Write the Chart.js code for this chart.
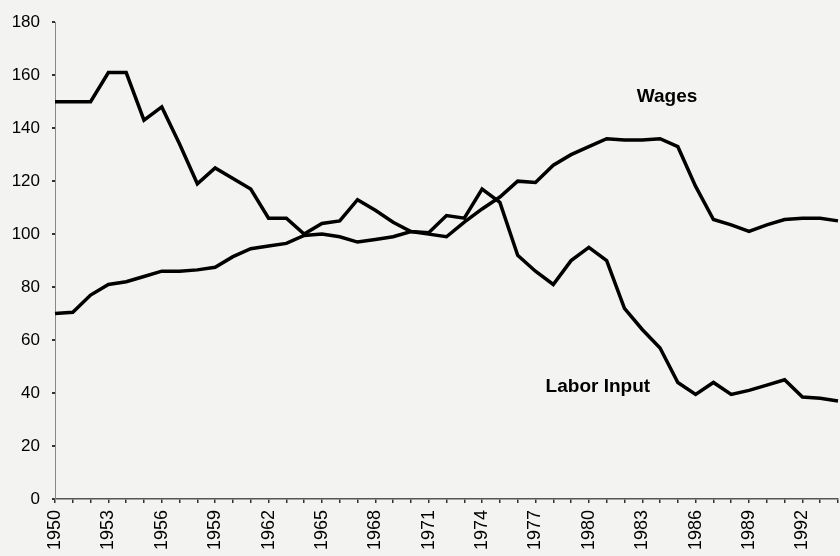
<!DOCTYPE html>
<html>
<head>
<meta charset="utf-8">
<script src="https://cdn.jsdelivr.net/npm/chart.js@4"></script>
<style>
  html, body { margin: 0; padding: 0; background: #f3f3f1; }
  #wrap { width: 840px; height: 556px; position: relative; }
</style>
</head>
<body>
<div id="wrap"><canvas id="chart"></canvas></div>
<script>
const years = [
  '1950', '1951', '1952', '1953', '1954', '1955', '1956', '1957', '1958', '1959',
  '1960', '1961', '1962', '1963', '1964', '1965', '1966', '1967', '1968', '1969',
  '1970', '1971', '1972', '1973', '1974', '1975', '1976', '1977', '1978', '1979',
  '1980', '1981', '1982', '1983', '1984', '1985', '1986', '1987', '1988', '1989',
  '1990', '1991', '1992', '1993', '1994'
];
const laborInput = [
  150, 150, 150, 161, 161, 143, 148, 134, 119, 125,
  121, 117, 106, 106, 100, 104, 105, 113, 109, 104.5,
  101, 100.5, 107, 106, 117, 112, 92, 86, 81, 90,
  95, 90, 72, 64, 57, 44, 39.5, 44, 39.5, 41,
  43, 45, 38.5, 38, 37
];
const wages = [
  70, 70.5, 77, 81, 82, 84, 86, 86, 86.5, 87.5,
  91.5, 94.5, 95.5, 96.5, 99.5, 100, 99, 97, 98, 99,
  101, 100, 99, 104.5, 109.5, 114, 120, 119.5, 126, 130,
  133, 136, 135.5, 135.5, 136, 133, 118, 105.5, 103.5, 101,
  103.5, 105.5, 106, 106, 105
];
const shownYears = ['1950', '1953', '1956', '1959', '1962', '1965', '1968', '1971', '1974', '1977', '1980', '1983', '1986', '1989', '1992'];
const yTicks = [0, 20, 40, 60, 80, 100, 120, 140, 160, 180];

// series names written on the plot, placed in data coordinates
const seriesLabels = [
  { text: 'Wages', year: '1984', value: 152, dx: 7 },
  { text: 'Labor Input', year: '1980', value: 42.5, dx: 9 }
];

const labelPlugin = {
  id: 'seriesLabels',
  afterDatasetsDraw(chart) {
    const { ctx, scales } = chart;
    ctx.save();
    ctx.fillStyle = '#000';
    ctx.font = 'bold 19px "Liberation Sans", Arial, sans-serif';
    ctx.textAlign = 'center';
    ctx.textBaseline = 'middle';
    seriesLabels.forEach(l => {
      const x = scales.x.getPixelForValue(years.indexOf(l.year)) + l.dx;
      const y = scales.y.getPixelForValue(l.value);
      ctx.fillText(l.text, x, y);
    });
    ctx.restore();
  }
};

const tickFont = { family: '"Liberation Sans", Arial, sans-serif', size: 17 };

new Chart(document.getElementById('chart'), {
  type: 'line',
  data: {
    labels: years,
    datasets: [
      {
        label: 'Labor Input',
        data: laborInput,
        borderColor: '#000',
        borderWidth: 3.5,
        pointRadius: 0,
        tension: 0
      },
      {
        label: 'Wages',
        data: wages,
        borderColor: '#000',
        borderWidth: 3.5,
        pointRadius: 0,
        tension: 0
      }
    ]
  },
  options: {
    responsive: true,
    maintainAspectRatio: false,
    animation: false,
    layout: { padding: { top: 14, right: 2, left: 0, bottom: 0 } },
    plugins: {
      legend: { display: false },
      tooltip: { enabled: false }
    },
    scales: {
      x: {
        offset: false,
        border: { display: true, color: '#555', dash: [2, 9], width: 1.5 },
        grid: { drawOnChartArea: false, drawTicks: true, tickLength: 4, color: '#333', lineWidth: 1.5 },
        ticks: {
          autoSkip: false,
          maxRotation: 90,
          minRotation: 90,
          padding: 7,
          color: '#000',
          font: { family: '"Liberation Sans", Arial, sans-serif', size: 18 },
          callback(value) {
            const y = years[value];
            return shownYears.includes(y) ? y : '';
          }
        },
        afterFit(scale) {
          scale.height = 57;
          scale.paddingLeft = 0;
          scale.paddingRight = 0;
        }
      },
      y: {
        min: 0,
        max: 180,
        afterBuildTicks(scale) { scale.ticks = yTicks.map(v => ({ value: v })); },
        border: { display: true, color: '#888', dash: [1, 4], width: 1 },
        grid: { drawOnChartArea: false, drawTicks: true, tickLength: 3, color: '#333', lineWidth: 2 },
        ticks: { padding: 12, color: '#000', font: tickFont },
        afterFit(scale) { scale.width = 55; }
      }
    }
  },
  plugins: [labelPlugin]
});
</script>
</body>
</html>
